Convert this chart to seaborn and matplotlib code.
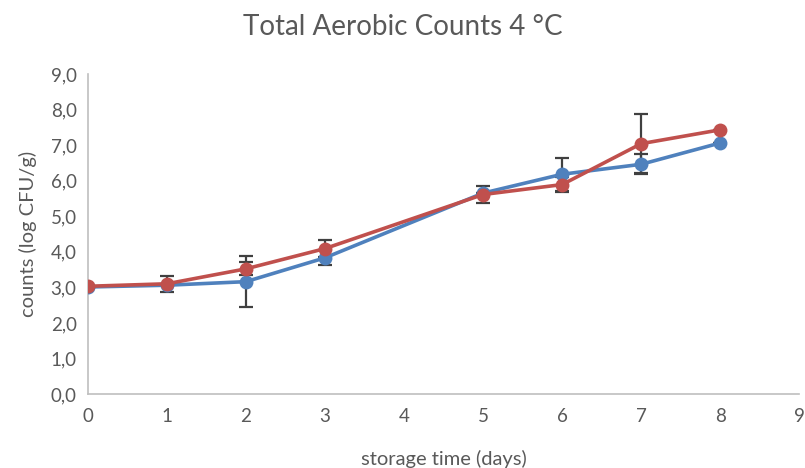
import matplotlib
matplotlib.use("Agg")
import matplotlib.pyplot as plt
import seaborn as sns
import pandas as pd
import numpy as np
from matplotlib.ticker import FuncFormatter, MultipleLocator

days = [0, 1, 2, 3, 5, 6, 7, 8]
blue_vals = [3.01, 3.06, 3.16, 3.83, 5.65, 6.18, 6.46, 7.06]
blue_err = [0.0, 0.0, 0.71, 0.21, 0.0, 0.47, 0.28, 0.0]
red_vals = [3.03, 3.10, 3.52, 4.09, 5.61, 5.89, 7.04, 7.43]
red_err = [0.0, 0.23, 0.18, 0.24, 0.25, 0.21, 0.83, 0.0]

title = "Total Aerobic Counts 4 °C"
xlabel = "storage time (days)"
ylabel = "counts (log CFU/g)"

blue_c = "#4F81BD"
red_c = "#C0504D"
err_c = "#404040"
text_c = "#595959"

sns.set_theme(style="white")
plt.rcParams['font.family'] = ['Lato', 'DejaVu Sans']

fig = plt.figure(figsize=(8.05, 4.68), dpi=100)
ax = fig.add_axes([0.109, 0.158, 0.884, 0.684])

df = pd.DataFrame({
    "day": days * 2,
    "value": blue_vals + red_vals,
    "series": ["A"] * len(days) + ["B"] * len(days),
})

for vals, errs, c in [(blue_vals, blue_err, blue_c), (red_vals, red_err, red_c)]:
    ax.errorbar(days, vals, yerr=errs, fmt="none", ecolor=err_c, elinewidth=1.6,
                capsize=5, capthick=1.6, zorder=1)

sns.lineplot(data=df, x="day", y="value", hue="series",
             palette={"A": blue_c, "B": red_c}, marker="o", markersize=10,
             markeredgewidth=0, linewidth=2.6, legend=False, ax=ax, zorder=3)

ax.set_xlim(0, 9)
ax.set_ylim(0, 9)
ax.xaxis.set_major_locator(MultipleLocator(1))
ax.yaxis.set_major_locator(MultipleLocator(1))
ax.yaxis.set_major_formatter(FuncFormatter(lambda v, p: f"{v:.1f}".replace(".", ",")))

for s in ["top", "right"]:
    ax.spines[s].set_visible(False)
for s in ["left", "bottom"]:
    ax.spines[s].set_color("#BFBFBF")
    ax.spines[s].set_linewidth(1.2)

ax.tick_params(axis="x", length=0, labelsize=13.5, colors=text_c, pad=10)
ax.tick_params(axis="y", length=0, labelsize=13.5, colors=text_c, pad=8)
ax.set_xlabel(xlabel, fontsize=14.5, color=text_c, labelpad=18)
ax.set_ylabel(ylabel, fontsize=14.5, color=text_c, labelpad=10)
fig.suptitle(title, fontsize=20, color=text_c, y=0.97)

fig.savefig("out.png", dpi=100)
